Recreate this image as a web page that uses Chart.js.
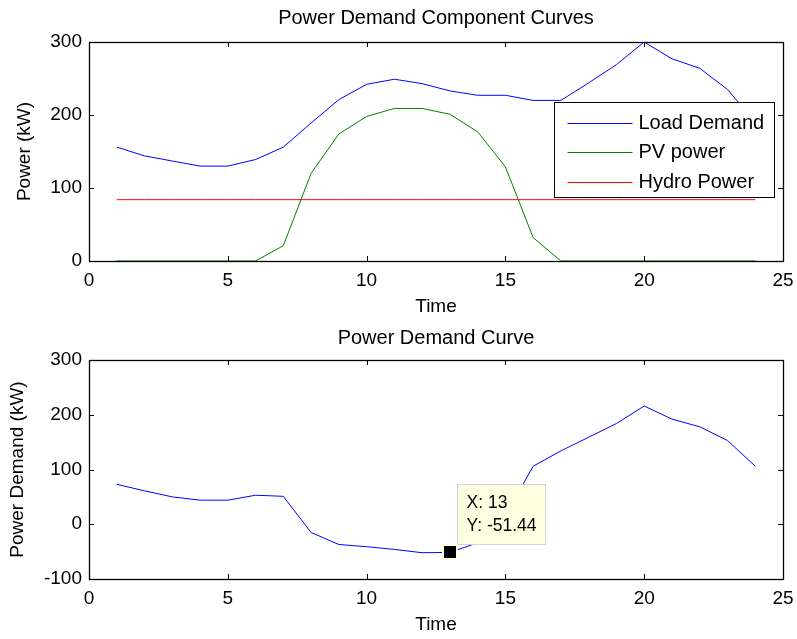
<!DOCTYPE html>
<html>
<head>
<meta charset="utf-8">
<script src="https://cdn.jsdelivr.net/npm/chart.js@4"></script>
<style>
  body { margin: 0; background: #fff; }
  .box { position: absolute; left: 0; width: 797px; }
  #top { top: 0; height: 320px; }
  #bot { top: 320px; height: 319px; }
</style>
</head>
<body>
<div class="box" id="top"><canvas id="cTop"></canvas></div>
<div class="box" id="bot"><canvas id="cBot"></canvas></div>
<script>
// hours 1..24
let hours = [1,2,3,4,5,6,7,8,9,10,11,12,13,14,15,16,17,18,19,20,21,22,23,24];
let loadDemand = [156,144,137,130,130,139,156,189,221,242,249,243,233,227,227,220,220,244,269,300,277,264,235,190];
let pvPower = [0,0,0,0,0,0,21,120,174,198,209,209,201,177,129,32,0,0,0,0,0,0,0,0];
let hydroPower = [84,84,84,84,84,84,84,84,84,84,84,84,84,84,84,84,84,84,84,84,84,84,84,84];
let netDemand = [73,61,50,44,44,53,51,-15,-37,-41,-46,-52,-51.44,-34,16,106,134,159,184,216,192,178,153,106];
let tipX = 13;
let tipY = -51.44;
let xTicks = [0,5,10,15,20,25];

const FONT = 'Liberation Sans, Arial, sans-serif';

function pts(ys) {
  return hours.map((h, i) => ({ x: h, y: ys[i] }));
}

// matlab style box with inward ticks
const boxPlug = {
  id: 'boxPlug',
  afterDatasetsDraw(chart) {
    const { ctx, chartArea: a, scales } = chart;
    ctx.save();
    ctx.strokeStyle = '#000';
    ctx.lineWidth = 1;
    ctx.beginPath();
    scales.x.ticks.forEach(t => {
      let px = Math.round(scales.x.getPixelForValue(t.value)) + 0.5;
      ctx.moveTo(px, a.bottom); ctx.lineTo(px, a.bottom - 5);
      ctx.moveTo(px, a.top); ctx.lineTo(px, a.top + 5);
    });
    scales.y.ticks.forEach(t => {
      let py = Math.round(scales.y.getPixelForValue(t.value)) + 0.5;
      ctx.moveTo(a.left, py); ctx.lineTo(a.left + 5, py);
      ctx.moveTo(a.right, py); ctx.lineTo(a.right - 5, py);
    });
    ctx.stroke();
    ctx.lineWidth = 1.3;
    ctx.strokeRect(Math.round(a.left) + 0.5, Math.round(a.top) + 0.5, Math.round(a.right - a.left), Math.round(a.bottom - a.top));
    ctx.restore();
  }
};

const titlePlug = {
  id: 'titlePlug',
  afterDraw(chart, args, opt) {
    const { ctx, chartArea: a } = chart;
    ctx.save();
    ctx.font = '20px ' + FONT;
    ctx.fillStyle = '#000';
    ctx.textAlign = 'center';
    ctx.textBaseline = 'middle';
    ctx.fillText(opt.text, (a.left + a.right) / 2, opt.y);
    ctx.restore();
  }
};

const legendPlug = {
  id: 'legendPlug',
  afterDraw(chart) {
    const { ctx, chartArea: a } = chart;
    const ds = chart.data.datasets;
    let w = 220, h = 95;
    let x0 = Math.round(a.right - 9 - w) + 0.5, y0 = Math.round(a.top + 60) + 0.5;
    ctx.save();
    ctx.fillStyle = '#fff';
    ctx.fillRect(x0, y0, w, h);
    ctx.strokeStyle = '#000';
    ctx.lineWidth = 1;
    ctx.strokeRect(x0, y0, w, h);
    ctx.font = '20px ' + FONT;
    ctx.textBaseline = 'middle';
    ds.forEach((d, i) => {
      let yy = Math.round(y0 + 20 + i * 29.5) + 0.5;
      ctx.strokeStyle = d.borderColor;
      ctx.beginPath();
      ctx.moveTo(x0 + 13, yy); ctx.lineTo(x0 + 78, yy);
      ctx.stroke();
      ctx.fillStyle = '#000';
      ctx.fillText(d.label, x0 + 84, yy);
    });
    ctx.restore();
  }
};

const tipPlug = {
  id: 'tipPlug',
  afterDraw(chart) {
    const { ctx, scales } = chart;
    let px = scales.x.getPixelForValue(tipX);
    let py = scales.y.getPixelForValue(tipY);
    let bx = Math.round(px + 7) + 0.5, by = Math.round(py - 68) + 0.5;
    ctx.save();
    ctx.fillStyle = '#ffffe1';
    ctx.fillRect(bx, by, 88, 60);
    ctx.strokeStyle = '#d4d4d4';
    ctx.lineWidth = 1;
    ctx.strokeRect(bx, by, 88, 60);
    ctx.fillStyle = '#000';
    ctx.font = '17.5px ' + FONT;
    ctx.textBaseline = 'middle';
    ctx.fillText('X: ' + tipX, bx + 9, by + 19);
    ctx.fillText('Y: ' + tipY, bx + 9, by + 42);
    // marker
    ctx.fillStyle = '#ffffe1';
    ctx.fillRect(Math.round(px) - 8, Math.round(py) - 8, 16, 16);
    ctx.fillStyle = '#000';
    ctx.fillRect(Math.round(px) - 6, Math.round(py) - 6, 12, 12);
    ctx.restore();
  }
};

function crtPlot({ elementId, datasets, yMin, yMax, yTitle, yTitlePad, title, titleY, padTop, xHeight, xTitlePad, plugins }) {
  const ctx = document.getElementById(elementId).getContext('2d');
  return new Chart(ctx, {
    type: 'line',
    data: { datasets: datasets },
    options: {
      responsive: true,
      maintainAspectRatio: false,
      animation: false,
      layout: { padding: { top: padTop, right: 14, bottom: 0, left: 0 } },
      elements: { point: { radius: 0 }, line: { borderWidth: 1, tension: 0 } },
      plugins: {
        legend: { display: false },
        tooltip: { enabled: false },
        titlePlug: { text: title, y: titleY }
      },
      scales: {
        x: {
          type: 'linear', min: 0, max: 25,
          afterBuildTicks: s => { s.ticks = xTicks.map(v => ({ value: v })); },
          afterFit: s => { s.height = xHeight; s.paddingLeft = 0; s.paddingRight = 0; },
          grid: { display: false, drawTicks: false },
          border: { display: false },
          ticks: { color: '#000', padding: 8, font: { family: FONT, size: 19 } },
          title: { display: true, text: 'Time', color: '#000', padding: { top: 0, bottom: xTitlePad }, font: { family: FONT, size: 19 } }
        },
        y: {
          min: yMin, max: yMax,
          afterFit: s => { s.width = 89; s.paddingTop = 0; s.paddingBottom = 0; },
          grid: { display: false, drawTicks: false },
          border: { display: false },
          ticks: { color: '#000', stepSize: 100, padding: 7, font: { family: FONT, size: 19 } },
          title: { display: true, text: yTitle, color: '#000', padding: { top: yTitlePad, bottom: 0 }, font: { family: FONT, size: 19 } }
        }
      }
    },
    plugins: [boxPlug, titlePlug].concat(plugins)
  });
}

crtPlot({
  elementId: 'cTop',
  datasets: [
    { label: 'Load Demand', data: pts(loadDemand), borderColor: '#0000ff' },
    { label: 'PV power', data: pts(pvPower), borderColor: '#008000' },
    { label: 'Hydro Power', data: pts(hydroPower), borderColor: '#ff0000' }
  ],
  yMin: 0, yMax: 300, yTitle: 'Power (kW)', yTitlePad: 13,
  title: 'Power Demand Component Curves', titleY: 18, padTop: 42, xHeight: 59, xTitlePad: 2,
  plugins: [legendPlug]
});

crtPlot({
  elementId: 'cBot',
  datasets: [
    { label: 'Power Demand', data: pts(netDemand), borderColor: '#0000ff' }
  ],
  yMin: -100, yMax: 300, yTitle: 'Power Demand (kW)', yTitlePad: 6,
  title: 'Power Demand Curve', titleY: 18, padTop: 40, xHeight: 60, xTitlePad: 3,
  plugins: [tipPlug]
});
</script>
</body>
</html>
